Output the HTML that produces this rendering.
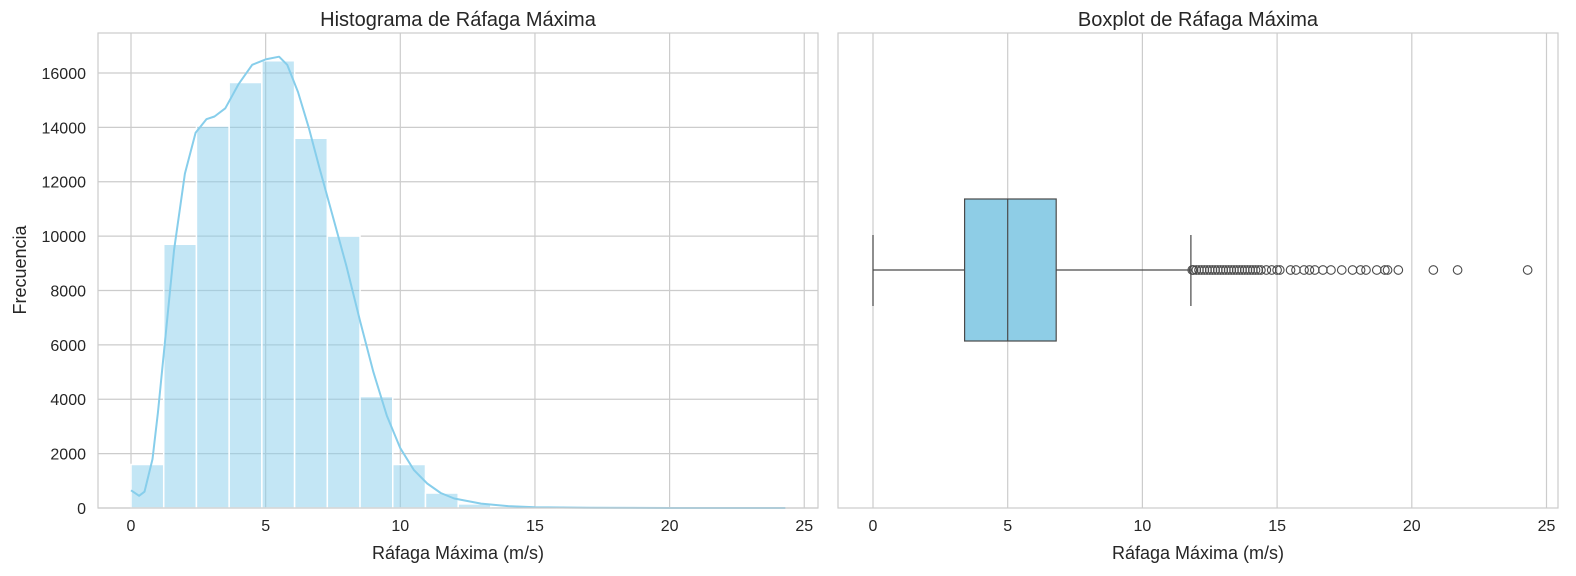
<!DOCTYPE html>
<html><head><meta charset="utf-8"><style>
body{margin:0;background:#fff;font-family:"Liberation Sans","DejaVu Sans",sans-serif}
svg{display:block}
</style></head><body>
<svg id="c" width="1576" height="576" xmlns="http://www.w3.org/2000/svg"></svg>
<script>
const binCounts=[1600,9700,14050,15650,16450,13600,10000,4100,1600,550,150,60,30,15,8,5,3,2,1,1];
const binStart=0, binWidth=1.215;
const kdeX=[0,0.3,0.5,0.8,1,1.3,1.6,2,2.4,2.8,3.1,3.5,4,4.5,5,5.5,5.8,6.2,6.6,7,7.5,8,8.5,9,9.5,10,10.5,11,11.5,12,13,14,15,17,20,24.3];
const kdeY=[650,450,600,1800,3500,6500,9500,12300,13800,14300,14400,14700,15600,16300,16500,16600,16300,15300,14000,12500,10700,8900,6900,5000,3400,2200,1400,900,550,350,160,70,25,6,1,0];
const boxStats=[0,3.4,5.0,6.8,11.8];
const outliers=[11.85,11.9,12.0,12.1,12.2,12.3,12.4,12.5,12.6,12.7,12.8,12.9,13.0,13.1,13.2,13.3,13.4,13.5,13.6,13.7,13.8,13.9,14.0,14.1,14.2,14.3,14.4,14.6,14.8,15.0,15.1,15.5,15.7,16.0,16.2,16.4,16.7,17.0,17.4,17.8,18.1,18.3,18.7,19.0,19.1,19.5,20.8,21.7,24.3];
const xTicks=[0,5,10,15,20,25];
const yTicks=[0,2000,4000,6000,8000,10000,12000,14000,16000];

const svg=document.getElementById('c');const NS='http://www.w3.org/2000/svg';
function el(t,a,p){const e=document.createElementNS(NS,t);for(const k in a)e.setAttribute(k,a[k]);(p||svg).appendChild(e);return e;}
function txt(s,a,p){const e=el('text',a,p);e.textContent=s;return e;}
const yTop=33,yBot=508;
const L={x0:98,x1:818};
const lx=v=>131+v*26.93, ly=v=>508-v*0.027188;
const gL=el('g',{});
xTicks.forEach(t=>{const l=el('line',{x1:lx(t),x2:lx(t),y1:yTop,y2:yBot,stroke:'#cccccc','stroke-width':1.2},gL);
 const s=txt(t,{x:lx(t),y:531,'text-anchor':'middle','font-size':16,fill:'#262626'},gL);});
yTicks.forEach(t=>{const l=el('line',{x1:L.x0,x2:L.x1,y1:ly(t),y2:ly(t),stroke:'#cccccc','stroke-width':1.2},gL);
 const s=txt(t,{x:86,y:ly(t)+6,'text-anchor':'end','font-size':16,fill:'#262626'},gL);});
binCounts.forEach((c,i)=>{const a=binStart+i*binWidth;const r=el('rect',{x:lx(a),y:ly(c),width:lx(a+binWidth)-lx(a),height:ly(0)-ly(c),fill:'#87ceeb','fill-opacity':0.5,stroke:'#fff','stroke-width':1.5},gL);});
let d='';kdeX.forEach((x,i)=>{d+=(i?'L':'M')+lx(x).toFixed(1)+','+ly(kdeY[i]).toFixed(1);});
const kp=el('path',{d:d,fill:'none',stroke:'#87ceeb','stroke-width':2,'stroke-linejoin':'round'},gL);
const f1=el('rect',{x:L.x0,y:yTop,width:L.x1-L.x0,height:yBot-yTop,fill:'none',stroke:'#cccccc','stroke-width':1.2},gL);
let t1=txt('Histograma de Ráfaga Máxima',{x:458,y:26,'text-anchor':'middle','font-size':20,fill:'#262626'},gL);
let t2=txt('Ráfaga Máxima (m/s)',{x:458,y:559,'text-anchor':'middle','font-size':18,fill:'#262626'},gL);
let t3=txt('Frecuencia',{x:0,y:0,'text-anchor':'middle','font-size':18,fill:'#262626',transform:'translate(26,270) rotate(-90)'},gL);
const R={x0:838,x1:1558};const rx=v=>873+v*26.94;const cy=270;
const gR=el('g',{});
xTicks.forEach(t=>{const l=el('line',{x1:rx(t),x2:rx(t),y1:yTop,y2:yBot,stroke:'#cccccc','stroke-width':1.2},gR);
 const s=txt(t,{x:rx(t),y:531,'text-anchor':'middle','font-size':16,fill:'#262626'},gR);});
const st='#4a4a4a';
let w1=el('line',{x1:rx(boxStats[0]),x2:rx(boxStats[1]),y1:cy,y2:cy,stroke:st,'stroke-width':1.2},gR);
let w2=el('line',{x1:rx(boxStats[3]),x2:rx(boxStats[4]),y1:cy,y2:cy,stroke:st,'stroke-width':1.2},gR);
[0,4].forEach(i=>{const c=el('line',{x1:rx(boxStats[i]),x2:rx(boxStats[i]),y1:235,y2:306,stroke:st,'stroke-width':1.2},gR);});
let bx=el('rect',{x:rx(boxStats[1]),y:199,width:rx(boxStats[3])-rx(boxStats[1]),height:142,fill:'#8ecde6',stroke:st,'stroke-width':1.2},gR);
let md=el('line',{x1:rx(boxStats[2]),x2:rx(boxStats[2]),y1:199,y2:341,stroke:st,'stroke-width':1.2},gR);
outliers.forEach(o=>{const c=el('circle',{cx:rx(o),cy:cy,r:4.3,fill:'none',stroke:st,'stroke-width':1.1},gR);});
const f2=el('rect',{x:R.x0,y:yTop,width:R.x1-R.x0,height:yBot-yTop,fill:'none',stroke:'#cccccc','stroke-width':1.2},gR);
let t4=txt('Boxplot de Ráfaga Máxima',{x:1198,y:26,'text-anchor':'middle','font-size':20,fill:'#262626'},gR);
let t5=txt('Ráfaga Máxima (m/s)',{x:1198,y:559,'text-anchor':'middle','font-size':18,fill:'#262626'},gR);
</script>
</body></html>
